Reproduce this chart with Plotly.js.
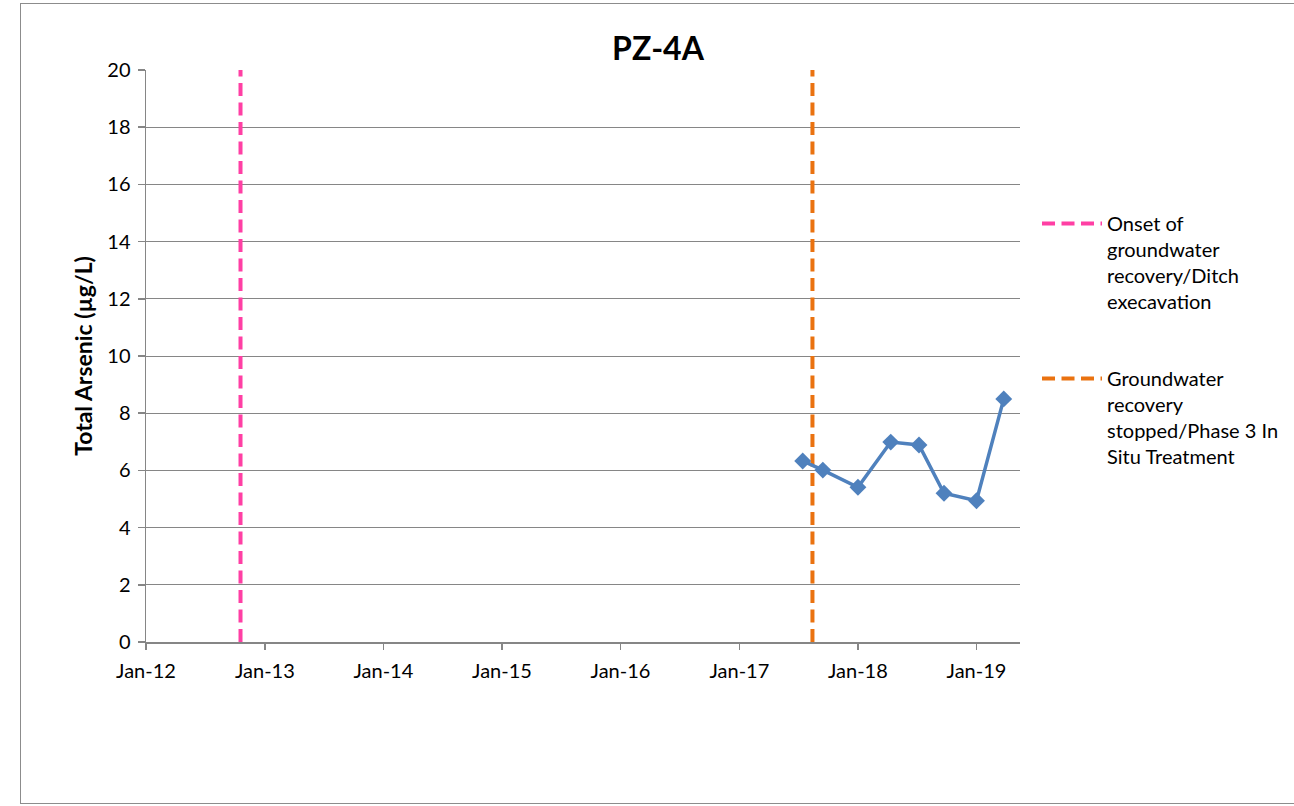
<!DOCTYPE html>
<html>
<head>
<meta charset="utf-8">
<script src="https://cdn.plot.ly/plotly-3.0.1.min.js"></script>
<style>
html,body{margin:0;padding:0;background:#fff;}
#frame{position:absolute;left:20px;top:3px;width:1280px;height:801px;border:1px solid #8c8c8c;box-sizing:border-box;}
#chart{position:absolute;left:0;top:0;width:1294px;height:806px;}
</style>
</head>
<body>
<div id="frame"></div>
<div id="chart"></div>
<script>
// Data
const sampleDates = ['2017-07-15','2017-09-15','2018-01-01','2018-04-12','2018-07-08','2018-09-23','2019-01-01','2019-03-26'];
const arsenicValues = [6.33, 6.01, 5.41, 6.99, 6.89, 5.2, 4.94, 8.5];
const onsetDate = '2012-10-18';
const stoppedDate = '2017-08-14';
const eventRange = [0, 20];
const onsetLabel = 'Onset of<br>groundwater<br>recovery/Ditch<br>execavation';
const stoppedLabel = 'Groundwater<br>recovery<br>stopped/Phase 3 In<br>Situ Treatment';

const fontFam = 'Lato, "Open Sans", sans-serif';

const traces = [
  {
    x: [onsetDate, onsetDate], y: eventRange, mode: 'lines', name: onsetLabel,
    legendgroup: 'a',
    line: {color: '#FF3FA4', width: 4, dash: '13px,6.5px'}, hoverinfo: 'skip'
  },
  {
    x: [stoppedDate, stoppedDate], y: eventRange, mode: 'lines', name: stoppedLabel,
    legendgroup: 'b',
    line: {color: '#EA7210', width: 4, dash: '13px,6.5px'}, hoverinfo: 'skip'
  },
  {
    x: sampleDates, y: arsenicValues, mode: 'lines+markers', name: 'PZ-4A',
    showlegend: false,
    line: {color: '#4F81BD', width: 3.5},
    marker: {symbol: 'diamond', size: 13, color: '#4F81BD'}
  }
];

const layout = {
  width: 1294, height: 806,
  paper_bgcolor: 'rgba(0,0,0,0)', plot_bgcolor: 'rgba(0,0,0,0)',
  margin: {l: 146, r: 274, t: 70, b: 164, autoexpand: false},
  font: {family: fontFam, size: 20, color: '#000'},
  title: {text: '<b>PZ-4A</b>', font: {family: fontFam, size: 32, color: '#000'}, x: 0.5085, xanchor: 'center', y: 0.94, yanchor: 'middle'},
  xaxis: {
    type: 'date', range: ['2012-01-01', '2019-05-15'],
    tick0: '2012-01-01', dtick: 'M12', tickformat: '%b-%y',
    showgrid: false, showline: true, linecolor: '#868686', linewidth: 1.5,
    ticks: 'outside', ticklen: 6, tickcolor: '#868686', tickwidth: 1.5,
    ticklabelstandoff: 4,
    tickfont: {family: fontFam, size: 20, color: '#000'}, zeroline: false
  },
  yaxis: {
    range: [0, 20], dtick: 2, tick0: 0,
    showgrid: true, gridcolor: '#868686', gridwidth: 1,
    showline: true, linecolor: '#868686', linewidth: 1.5,
    ticks: 'outside', ticklen: 7, tickcolor: '#868686', tickwidth: 1.5,
    ticklabelstandoff: 3,
    tickfont: {family: fontFam, size: 20, color: '#000'}, zeroline: false,
    title: {text: '<b>Total Arsenic (µg/L)</b>', font: {family: fontFam, size: 23, color: '#000'}, standoff: 8}
  },
  showlegend: true,
  legend: {
    xref: 'container', yref: 'container',
    x: 0.8014, xanchor: 'left', y: 0.747, yanchor: 'top',
    font: {family: fontFam, size: 20, color: '#000'},
    traceorder: 'grouped', tracegroupgap: 48, valign: 'top',
    bgcolor: 'rgba(0,0,0,0)', itemwidth: 60
  }
};

Plotly.newPlot('chart', traces, layout, {displayModeBar: false, staticPlot: true});
</script>
</body>
</html>
